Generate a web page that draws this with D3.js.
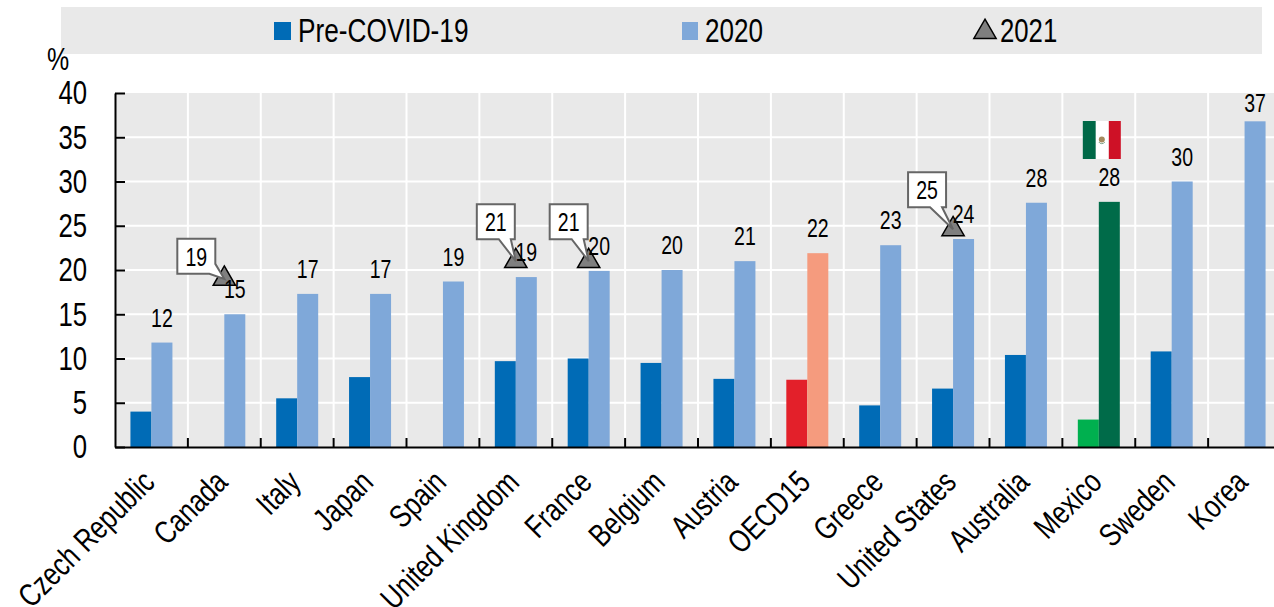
<!DOCTYPE html>
<html>
<head>
<meta charset="utf-8">
<title>pre-covid vs 2020</title>
<script src="https://d3js.org/d3.v7.min.js"></script>
<style>
html, body { margin: 0; padding: 0; background: #fff; overflow: hidden; }
svg { display: block; }
text { font-family: "Liberation Sans", Arial, sans-serif; fill: #000; }
.domain { stroke: #000; stroke-width: 2; }
.tick line { stroke: #000; stroke-width: 2; }
</style>
</head>
<body>
<svg id="chart" width="1274" height="607"></svg>
<script>
var countries = ["Czech Republic", "Canada", "Italy", "Japan", "Spain", "United Kingdom", "France", "Belgium",
	"Austria", "OECD15", "Greece", "United States", "Australia", "Mexico", "Sweden", "Korea"];
var preCovid = [4, null, 5.5, 7.9, null, 9.7, 10, 9.5, 7.7, 7.6, 4.7, 6.6, 10.4, 3.1, 10.8, null];
var y2020 = [11.8, 15, 17.3, 17.3, 18.7, 19.2, 19.9, 20, 21, 21.9, 22.8, 23.5, 27.6, 27.7, 30, 36.8];
var y2020Labels = [12, 15, 17, 17, 19, 19, 20, 20, 21, 22, 23, 24, 28, 28, 30, 37];
var y2021Countries = ["Canada", "United Kingdom", "France", "United States"];
var y2021 = [19, 21, 21, 24.6];
var y2021Labels = [19, 21, 21, 25];
var yTicks = [0, 5, 10, 15, 20, 25, 30, 35, 40];

var svg = d3.select("#chart");

// plot area runs off the right edge of the picture
var x = d3.scaleBand().domain(countries).range([115, 1281]);
var y = d3.scaleLinear().domain([0, 40]).range([447, 93]);
var barW = 21;

// no narrow font on the machine, so squeeze the regular one
function narrowText(parent, str, px, py, size, sx, anchor) {
	return parent.append("text").text(str)
		.attr("transform", "translate(" + px + "," + py + ") scale(" + sx + ",1)")
		.attr("text-anchor", anchor || "start")
		.attr("font-size", size);
}

function preColor(c) {
	if (c == "OECD15") return "#e3202a";
	if (c == "Mexico") return "#00b04f";
	return "#006bb6";
}
function lightColor(c) {
	if (c == "OECD15") return "#f59b7e";
	if (c == "Mexico") return "#006b49";
	return "#7fa8d9";
}

// legend band
svg.append("rect").attr("x", 61).attr("y", 7).attr("width", 1201).attr("height", 47).attr("fill", "#e9e9e9");
svg.append("rect").attr("x", 274).attr("y", 22).attr("width", 17).attr("height", 18).attr("fill", "#006bb6");
svg.append("rect").attr("x", 682).attr("y", 22).attr("width", 16).attr("height", 18).attr("fill", "#7fa8d9");
var triangle = d3.symbol().type(d3.symbolTriangle).size(215);
svg.append("path").attr("d", triangle).attr("transform", "translate(985,32)")
	.attr("fill", "#7f7f7f").attr("stroke", "#000").attr("stroke-width", 1.5);
narrowText(svg, "Pre-COVID-19", 298, 42, 33, 0.795);
narrowText(svg, "2020", 705, 42, 33, 0.79);
narrowText(svg, "2021", 1000, 42, 33, 0.78);

// plot background and white grid
svg.append("rect").attr("x", 115).attr("y", 93).attr("width", 1159).attr("height", 354).attr("fill", "#e9e9e9");
countries.slice(1).forEach(function (c) {
	svg.append("line").attr("x1", x(c)).attr("x2", x(c)).attr("y1", 93).attr("y2", 447)
		.attr("stroke", "#fff").attr("stroke-width", 2);
});
yTicks.slice(1, -1).forEach(function (t) {
	svg.append("line").attr("x1", 115).attr("x2", 1274).attr("y1", y(t)).attr("y2", y(t))
		.attr("stroke", "#fff").attr("stroke-width", 2);
});

// bars
countries.forEach(function (c, i) {
	var mid = x(c) + x.bandwidth() / 2;
	if (preCovid[i] != null) {
		svg.append("rect").attr("x", mid - barW).attr("y", y(preCovid[i])).attr("width", barW)
			.attr("height", y(0) - y(preCovid[i])).attr("fill", preColor(c));
	}
	svg.append("rect").attr("x", mid).attr("y", y(y2020[i])).attr("width", barW)
		.attr("height", y(0) - y(y2020[i])).attr("fill", lightColor(c));
});

// axes
var yAxis = d3.axisLeft(y).tickValues(yTicks).tickSize(-10).tickSizeOuter(0);
var yg = svg.append("g").attr("transform", "translate(115,0)").call(yAxis);
yg.selectAll("text").attr("font-size", 33).attr("text-anchor", "end").attr("x", 0).attr("dy", "0.36em")
	.attr("transform", "translate(-28,-1) scale(0.78,1)");

var xAxis = d3.axisBottom(x).tickSize(0).tickPadding(0).tickSizeOuter(0);
var xg = svg.append("g").attr("transform", "translate(0,447)").call(xAxis);
xg.selectAll("text").attr("font-size", 32).attr("text-anchor", "end").attr("dy", 0).attr("y", 0)
	.attr("transform", "translate(5,37) rotate(-45) scale(0.79,1)");
countries.slice(1).forEach(function (c) {
	svg.append("line").attr("x1", x(c)).attr("x2", x(c)).attr("y1", 447).attr("y2", 438)
		.attr("stroke", "#000").attr("stroke-width", 2);
});

narrowText(svg, "%", 47, 70, 32, 0.78);

// 2021 markers go under the value labels
y2021Countries.forEach(function (c, i) {
	var mid = x(c) + x.bandwidth() / 2;
	svg.append("path").attr("d", triangle).attr("transform", "translate(" + mid + "," + y(y2021[i]) + ")")
		.attr("fill", "#7f7f7f").attr("stroke", "#000").attr("stroke-width", 1.5);
});

// value labels, held below the top of the frame for Korea
countries.forEach(function (c, i) {
	var mid = x(c) + x.bandwidth() / 2;
	narrowText(svg, y2020Labels[i], mid + barW / 2, Math.max(y(y2020[i]) - 16, 112), 26, 0.75, "middle");
});

// callouts for 2021
y2021Countries.forEach(function (c, i) {
	var mid = x(c) + x.bandwidth() / 2;
	var top = y(y2021[i]);
	var bw = 38, bh = 35;
	var bx = (c == "Canada") ? mid - 47 : (c == "United States") ? mid - 45 : mid - 39;
	var by = (c == "Canada") ? top - 40 : top - 57;
	var b = by + bh, r = bx + bw;
	var d;
	if (c == "Canada") {
		// tail leaves from the lower right corner
		d = "M" + bx + "," + by + "H" + r + "V" + (b - 10) + "L" + mid + "," + top + "L" + (r - 6) + "," + b + "H" + bx + "Z";
	} else {
		d = "M" + bx + "," + by + "H" + r + "V" + b + "H" + (r - 4) + "L" + mid + "," + top + "L" + (r - 16) + "," + b + "H" + bx + "Z";
	}
	svg.append("path").attr("d", d).attr("fill", "#fff").attr("stroke", "#666").attr("stroke-width", 2);
	narrowText(svg, y2021Labels[i], bx + bw / 2, by + 27, 26, 0.75, "middle");
});

// Mexican flag above the Mexico bars
var flagMid = x("Mexico") + x.bandwidth() / 2 + 3;
svg.append("rect").attr("x", flagMid - 19).attr("y", 121).attr("width", 13).attr("height", 38).attr("fill", "#006847");
svg.append("rect").attr("x", flagMid - 6).attr("y", 121).attr("width", 13).attr("height", 38).attr("fill", "#fff");
svg.append("rect").attr("x", flagMid + 7).attr("y", 121).attr("width", 12).attr("height", 38).attr("fill", "#ce1126");
svg.append("circle").attr("cx", flagMid).attr("cy", 139.5).attr("r", 3).attr("fill", "#a58a5e");
svg.append("path").attr("d", "M" + (flagMid - 3) + ",142A3.5,3.5 0 0 0 " + (flagMid + 3) + ",142")
	.attr("fill", "none").attr("stroke", "#7fa58a").attr("stroke-width", 1);
</script>
</body>
</html>
